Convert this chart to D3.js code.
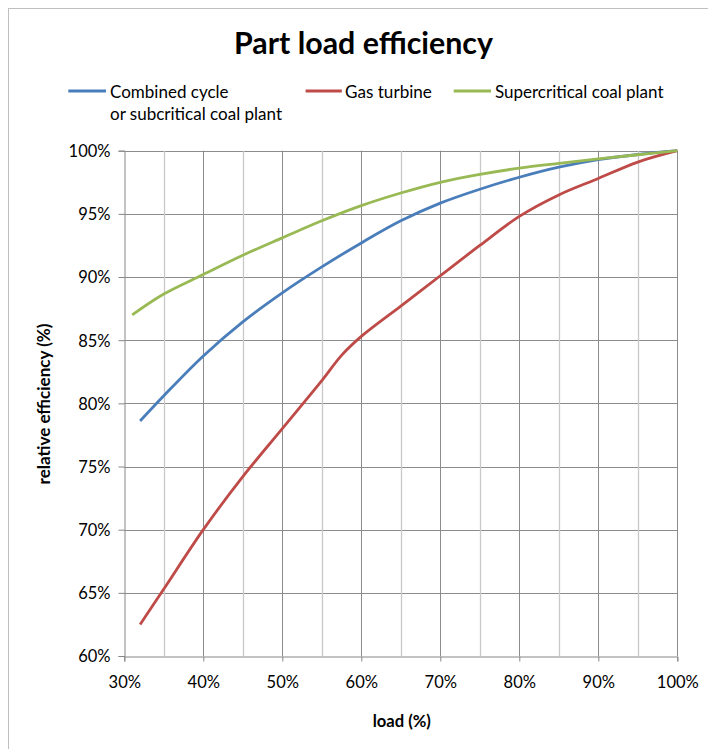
<!DOCTYPE html>
<html>
<head>
<meta charset="utf-8">
<script src="https://cdn.jsdelivr.net/npm/d3@7"></script>
<style>
  html, body { margin: 0; padding: 0; background: #fff; }
  svg { display: block; }
</style>
</head>
<body>
<svg id="chart" width="708" height="749"></svg>
<script>
// ---- data ----
const title = "Part load efficiency";
const xTitle = "load (%)";
const yTitle = "relative efficiency (%)";

const seriesNames = ["Combined cycle\nor subcritical coal plant", "Gas turbine", "Supercritical coal plant"];

const loadCombined = [0.32, 0.35, 0.40, 0.45, 0.50, 0.55, 0.60, 0.65, 0.70, 0.75, 0.80, 0.85, 0.90, 0.95, 1.00];
const effCombined  = [0.786, 0.806, 0.8375, 0.8645, 0.8875, 0.908, 0.927, 0.9445, 0.9585, 0.9695, 0.979, 0.987, 0.993, 0.997, 1.000];

const loadGas = [0.32, 0.35, 0.40, 0.45, 0.50, 0.55, 0.575, 0.60, 0.65, 0.70, 0.75, 0.80, 0.85, 0.90, 0.95, 1.00];
const effGas  = [0.625, 0.653, 0.700, 0.742, 0.780, 0.818, 0.838, 0.853, 0.877, 0.901, 0.925, 0.948, 0.965, 0.978, 0.991, 1.000];

const loadSuper = [0.31, 0.35, 0.40, 0.45, 0.50, 0.55, 0.60, 0.65, 0.70, 0.75, 0.80, 0.85, 0.90, 0.95, 1.00];
const effSuper  = [0.870, 0.8865, 0.902, 0.9172, 0.931, 0.9445, 0.9565, 0.9665, 0.975, 0.9812, 0.9862, 0.990, 0.9935, 0.9968, 1.000];

const xTicks = [0.3, 0.4, 0.5, 0.6, 0.7, 0.8, 0.9, 1.0];
const yTicks = [0.60, 0.65, 0.70, 0.75, 0.80, 0.85, 0.90, 0.95, 1.00];
const xMinorGrid = [0.35, 0.45, 0.55, 0.65, 0.75, 0.85, 0.95];

const colors = ["#4A7EBB", "#BE4B48", "#98B954"];

// ---- layout ----
const svg = d3.select("#chart");
const FONT = "Lato, 'Open Sans', sans-serif";
const pLeft = 124.3, pRight = 677.3, pTop = 150.7, pBottom = 656;

const x = d3.scaleLinear().domain([0.3, 1.0]).range([pLeft, pRight]);
const y = d3.scaleLinear().domain([0.6, 1.0]).range([pBottom, pTop]);

function fit(sel, w) {
  const n = sel.node();
  const cur = n.getComputedTextLength();
  const fs = parseFloat(sel.attr("font-size"));
  sel.attr("font-size", (fs * w / cur).toFixed(2));
}

// outer frame
svg.append("rect")
  .attr("x", 8.5).attr("y", 8.5).attr("width", 730).attr("height", 760)
  .attr("fill", "#fff").attr("stroke", "#BFBFBF").attr("stroke-width", 1);

// title
const t = svg.append("text")
  .attr("x", 363.5).attr("y", 54).attr("text-anchor", "middle")
  .attr("font-family", FONT).attr("font-weight", "bold").attr("font-size", 28)
  .attr("fill", "#000").text(title);
fit(t, 259);

// grid
const g = svg.append("g");
g.selectAll("line.hg").data(yTicks.filter(d => d > 0.6)).join("line")
  .attr("x1", pLeft).attr("x2", pRight)
  .attr("y1", d => Math.round(y(d)) + 0.5).attr("y2", d => Math.round(y(d)) + 0.5)
  .attr("stroke", "#8C8C8C").attr("stroke-width", 1);
g.selectAll("line.vmin").data(xMinorGrid).join("line")
  .attr("y1", pTop).attr("y2", pBottom)
  .attr("x1", d => Math.round(x(d)) + 0.5).attr("x2", d => Math.round(x(d)) + 0.5)
  .attr("stroke", "#C8C8C8").attr("stroke-width", 1.3);
g.selectAll("line.vmaj").data(xTicks.filter(d => d > 0.3)).join("line")
  .attr("y1", pTop).attr("y2", pBottom)
  .attr("x1", d => Math.round(x(d)) + 0.5).attr("x2", d => Math.round(x(d)) + 0.5)
  .attr("stroke", "#8C8C8C").attr("stroke-width", 1);

// axes
const xAxis = d3.axisBottom(x).tickValues(xTicks).tickFormat(d3.format(".0%")).tickSize(5).tickPadding(12);
const yAxis = d3.axisLeft(y).tickValues(yTicks).tickFormat(d3.format(".0%")).tickSize(6).tickPadding(8);

const gx = svg.append("g").attr("transform", `translate(0,${Math.round(pBottom) + 0.5})`).call(xAxis);
const gy = svg.append("g").attr("transform", `translate(${Math.round(pLeft) + 0.5},0)`).call(yAxis);
[gx, gy].forEach(a => {
  a.select(".domain").attr("stroke", "#868686");
  a.selectAll(".tick line").attr("stroke", "#868686");
  a.selectAll(".tick text").attr("font-family", FONT).attr("font-size", 16.5).attr("fill", "#000");
});
gx.selectAll(".tick text").attr("dy", "0.9em");
gy.selectAll(".tick text").attr("dy", "0.36em");

// axis titles
const xt = svg.append("text")
  .attr("x", 401.8).attr("y", 727).attr("text-anchor", "middle")
  .attr("font-family", FONT).attr("font-weight", "bold").attr("font-size", 14)
  .attr("fill", "#000").text(xTitle);
fit(xt, 58.3);
const yt = svg.append("text")
  .attr("transform", `translate(50,404) rotate(-90)`).attr("text-anchor", "middle")
  .attr("font-family", FONT).attr("font-weight", "bold").attr("font-size", 14)
  .attr("fill", "#000").text(yTitle);
fit(yt, 161);

// lines
const line = d3.line().x(d => x(d[0])).y(d => y(d[1])).curve(d3.curveCatmullRom.alpha(0.5));
const series = [
  d3.zip(loadCombined, effCombined),
  d3.zip(loadGas, effGas),
  d3.zip(loadSuper, effSuper)
];
svg.append("g").selectAll("path").data(series).join("path")
  .attr("d", line).attr("fill", "none")
  .attr("stroke", (d, i) => colors[i]).attr("stroke-width", 2.8)
  .attr("stroke-linejoin", "round");

// legend
const legendItems = [
  { x1: 68.3, x2: 106, tx: 110, w: [103, 172] },
  { x1: 305.6, x2: 341.8, tx: 345, w: [87] },
  { x1: 453.7, x2: 491, tx: 495, w: [168.6] }
];
const lg = svg.append("g");
legendItems.forEach((it, i) => {
  lg.append("line").attr("x1", it.x1).attr("x2", it.x2).attr("y1", 91).attr("y2", 91)
    .attr("stroke", colors[i]).attr("stroke-width", 2.8);
  const lines = seriesNames[i].split("\n");
  const txt = lg.append("text").attr("font-family", FONT).attr("font-size", 15).attr("fill", "#000");
  lines.forEach((l, j) => {
    txt.append("tspan").attr("x", it.tx).attr("y", 98 + j * 21.7).text(l);
  });
  const ts = txt.selectAll("tspan").nodes();
  let maxW = 0, idx = 0;
  ts.forEach((n, k) => { const w = n.getComputedTextLength(); if (w > maxW) { maxW = w; idx = k; } });
  const target = it.w[idx];
  txt.attr("font-size", (15 * target / maxW).toFixed(2));
});
</script>
</body>
</html>
